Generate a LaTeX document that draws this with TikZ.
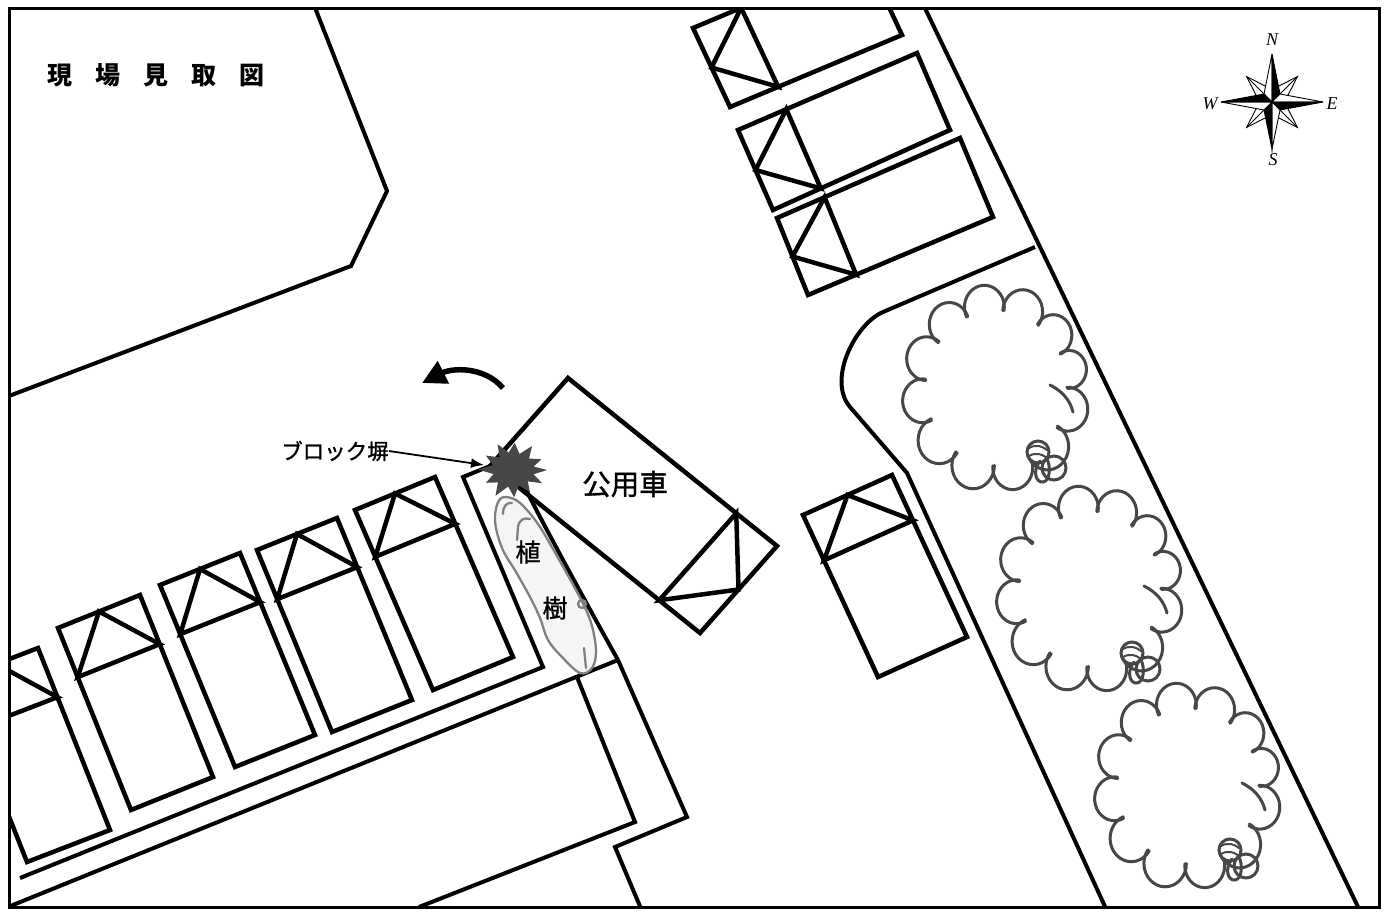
\documentclass[tikz,border=0pt]{standalone}
\usepackage{fontspec}
\newfontfamily\jpfont{Noto Sans CJK JP}
\newfontfamily\jpmedium[FakeBold=1.2]{Noto Sans CJK JP}
\newfontfamily\compassfont{Liberation Serif}
\usetikzlibrary{calc,arrows.meta}

% parked car: front corners #1,#2, back corners #3 (behind #2), #4 (behind #1),
% #5 = position of the windscreen line along the body
\newcommand{\carshape}[5]{%
  \draw[carline] #1 -- #2 -- #3 -- #4 -- cycle;
  \coordinate (da) at ($#1!#5!#4$);
  \coordinate (db) at ($#2!#5!#3$);
  \coordinate (dm) at ($#1!0.5!#2$);
  \draw[carline] (da) -- (db) -- (dm) -- cycle;
}

% scalloped tree crown with its small trunk marks
\newcommand{\cloudtree}[2]{%
  \begin{scope}[shift={(#1,#2)}]
    \begin{scope}[yscale=1.1]
      \foreach \p/\q in {0/30,30/62,62/92,92/124,124/156,156/186,186/216,216/246,246/276,276/306,306/334,334/360}{%
        \pgfmathsetmacro\mm{(\p+\q)/2}%
        \pgfmathsetmacro\rr{77*sin((\q-\p)/2)}%
        \pgfmathsetmacro\dd{77*cos((\q-\p)/2)}%
        \pgfmathsetmacro\sa{\mm-108}%
        \pgfmathsetmacro\ea{\mm+108}%
        \draw[treeline] ($(\mm:\dd)+(\sa:\rr)$) arc[start angle=\sa, end angle=\ea, radius=\rr];
      }
    \end{scope}
    \draw[treeline] (54,-3) .. controls (66,3) and (74,12) .. (77,24);
    \fill[white] (42,64) circle[radius=11];
    \draw[treeline] (42,64) circle[radius=11];
    \draw[treeline, line width=2pt] (33,60) .. controls (40,56) and (46,58) .. (51,62);
    \draw[treeline, line width=2pt] (33,68) .. controls (40,64) and (46,66) .. (51,70);
    \draw[treeline] (58,80) circle[radius=12];
    \draw[treeline] (44,73) .. controls (36,83) and (40,95) .. (47,94)
                          .. controls (54,93) and (55,79) .. (51,71);
  \end{scope}}

\begin{document}
\begin{tikzpicture}[x=1pt, y=-1pt,
    heavy/.style={line width=4pt, line join=miter},
    carline/.style={line width=4.5pt, line join=miter},
    frameline/.style={line width=3pt},
    treeline/.style={line width=3pt, draw=black!72, line cap=round},
    shrub/.style={line width=2.3pt, draw=black!50, fill=black!4, line cap=round},
    shrubline/.style={line width=2.3pt, draw=black!50, line cap=round},
    burst/.style={fill=black!72},
    jp/.style={inner sep=0pt},
    compasslabel/.style={font=\compassfont\itshape\fontsize{18}{18}\selectfont, inner sep=0pt},
    starline/.style={line width=0.9pt, line join=miter}]

\useasboundingbox (0,0) rectangle (1391,911);
\fill[white] (0,0) rectangle (1391,911);

\begin{scope}
  \clip (9,8) rectangle (1379,907);

  % building block, upper left
  \draw[heavy] (312,0) -- (387,191) -- (351,266) -- (0,399.4);

  % walkway and planting strip below the parking row
  \draw[heavy] (20,878) -- (543,667) -- (463,477) -- (490,466);
  \draw[heavy] (0,910.2) -- (618,660);
  \draw[heavy] (520,478) .. controls (545,528) and (590,610) .. (618,660);
  \draw[heavy] (577,677) -- (635,822) -- (419,907);
  \draw[heavy] (618,660) -- (687,817) -- (615,847) -- (642,911);

  % road edge and kerb on the right
  \draw[heavy] (921,0) -- (1360,911);
  \draw[heavy] (1035,247) -- (883,312) .. controls (855,324) and (827,380) .. (850,407)
               -- (907,473) -- (1107,911);

  % parked cars, upper row
  \carshape{(693,28)}{(730,107)}{(902,35)}{(865,-44)}{0.28}
  \carshape{(738,130)}{(773,210)}{(950,130)}{(917,53)}{0.27}
  \carshape{(777,218)}{(808,295)}{(993,217)}{(960,138)}{0.26}

  % parked car beside the kerb
  \carshape{(803,515)}{(892,475)}{(967,637)}{(878,677)}{0.28}

  % parked cars, lower left row
  \carshape{(-45,680)}{(38,648)}{(110,830)}{(27,862)}{0.27}
  \carshape{(58,628)}{(140,595)}{(213,777)}{(131,810)}{0.27}
  \carshape{(160,585)}{(240,553)}{(315,735)}{(235,767)}{0.27}
  \carshape{(257,550)}{(337,518)}{(412,700)}{(332,732)}{0.27}
  \carshape{(355,510)}{(435,477)}{(513,657)}{(433,690)}{0.26}

  % the official car
  \carshape{(777,546)}{(700,633)}{(491,465)}{(568,378)}{0.195}

  % trees on the right strip
  \cloudtree{996}{388}
  \cloudtree{1090}{589}
  \cloudtree{1188}{786}

  % hedge in the planting strip
  \draw[shrub] plot[smooth cycle, tension=0.6] coordinates {(500,499) (495,520) (502,548) (516,572) (530,597) (540,618) (548,640) (562,657) (580,673) (592,668) (596,652) (593,630) (587,612) (577,592) (566,572) (553,549) (540,527) (527,510) (514,499)};
  \draw[shrubline] (517,540) -- (518,527) .. controls (519,520) and (524,517) .. (530,519);
  \draw[shrubline] (503,514) .. controls (503,506) and (507,502) .. (512,503);
  \draw[shrubline] (582,604) circle[radius=4];
  \draw[shrubline] (584,648) -- (586,668);

  % impact with the block wall
  \begin{scope}[shift={(513,470)}, yscale=0.85]
    \fill[burst] (0:34) \foreach \ang/\rad in {14/21,28/33,42/20,57/31,72/19,88/32,104/20,120/35,136/21,151/31,166/20,181/35,196/21,212/32,228/20,243/34,258/21,273/32,289/20,304/34,320/21,336/31,349/21}{ -- (\ang:\rad)} -- cycle;
  \end{scope}

  % turning direction
  \coordinate (turnstart) at (503,388);
  \coordinate (turnend) at (422,383);
  \draw[line width=5.5pt, -{Triangle[length=24pt, width=24pt]}] (turnstart) .. controls (484,366) and (452,368) .. (turnend);

  % labels
  \node[jp, font=\jpfont\bfseries\fontsize{25}{25}\selectfont] (title) at (156,75)
    {現\hspace{23pt}場\hspace{23pt}見\hspace{23pt}取\hspace{23pt}図};
  \node[jp, font=\jpmedium\fontsize{21.5}{22}\selectfont] (wall) at (335,451) {ブロック塀};
  \coordinate (wallhit) at (484,465);
  \draw[line width=1.8pt, -{Latex[length=13pt, width=10pt]}] (wall.east) -- (wallhit);
  \node[jp, font=\jpmedium\fontsize{28.5}{29}\selectfont] (carlabel) at (625,484) {公用車};
  \node[jp, font=\jpmedium\fontsize{25}{25}\selectfont] (plantA) at (528,552) {植};
  \node[jp, font=\jpmedium\fontsize{25}{25}\selectfont] (plantB) at (555,608) {樹};

  % compass rose
  \begin{scope}[shift={(1272,102)}]
    \foreach \ang in {45,135,225,315}{
      \filldraw[starline, fill=white] (0,0) -- (\ang-26:16) -- (\ang:36) -- (\ang+26:16) -- cycle;
      \draw[starline] (0,0) -- (\ang:36);
    }
    \filldraw[starline, fill=white] (0,0) -- (0,-48) -- (-8,-8) -- cycle;
    \filldraw[starline, fill=black] (0,0) -- (0,-48) -- (8,-8) -- cycle;
    \filldraw[starline, fill=white] (0,0) -- (51,0) -- (8,-8) -- cycle;
    \filldraw[starline, fill=black] (0,0) -- (51,0) -- (8,8) -- cycle;
    \filldraw[starline, fill=white] (0,0) -- (0,47) -- (8,8) -- cycle;
    \filldraw[starline, fill=black] (0,0) -- (0,47) -- (-8,8) -- cycle;
    \filldraw[starline, fill=white] (0,0) -- (-51,0) -- (-8,8) -- cycle;
    \filldraw[starline, fill=black] (0,0) -- (-51,0) -- (-8,-8) -- cycle;
  \end{scope}
  \node[compasslabel] (north) at (1272,40) {N};
  \node[compasslabel] (south) at (1273,160) {S};
  \node[compasslabel] (west) at (1210,104) {W};
  \node[compasslabel] (east) at (1332,104) {E};
\end{scope}

% outer frame
\draw[frameline] (9,8) rectangle (1379,907);
\end{tikzpicture}
\end{document}
